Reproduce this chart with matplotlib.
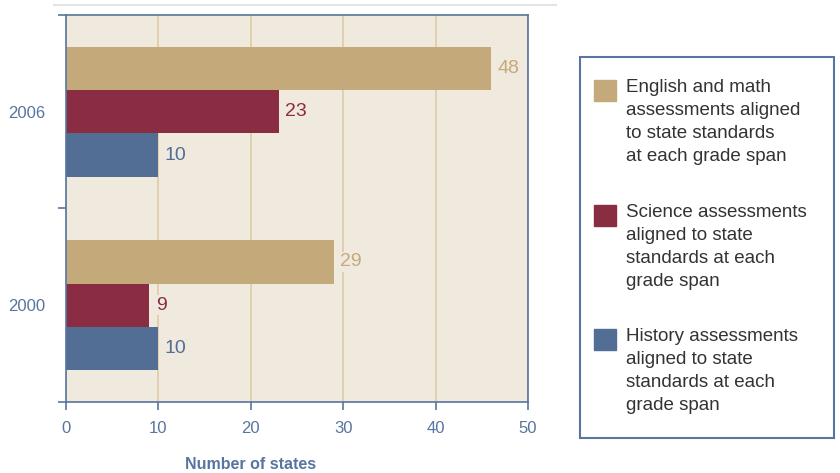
# -*- coding: utf-8 -*-
import numpy as np
import matplotlib
matplotlib.use('Agg')
import matplotlib.pyplot as plt
from matplotlib.patches import Rectangle
from matplotlib.lines import Line2D

plt.rcParams['font.family'] = ['Liberation Sans', 'DejaVu Sans']

# %% datos
anios = ['2000', '2006']
# largo de las barras tal como se dibujan en la figura
ingles_mate = [29, 46]
ciencias = [9, 23]
historia = [10, 10]
# valores impresos junto a las barras
etq_ingles_mate = ['29', '48']
etq_ciencias = ['9', '23']
etq_historia = ['10', '10']

series = [
    (ingles_mate, etq_ingles_mate, '#C4AA7B',
     'English and math\nassessments aligned\nto state standards\nat each grade span'),
    (ciencias, etq_ciencias, '#8A2D42',
     'Science assessments\naligned to state\nstandards at each\ngrade span'),
    (historia, etq_historia, '#536E95',
     'History assessments\naligned to state\nstandards at each\ngrade span'),
]

azul = '#5874A0'
fondo = '#F0E9DE'
reticula = '#DDCCA6'

# %% figura
fig = plt.figure(figsize=(8.4, 4.73), dpi=100)
ax = fig.add_axes([66/840, 71/473, 462/840, 387/473])
ax.set_facecolor(fondo)

y = np.arange(len(anios))
alto = 0.224
for k, (vals, etqs, color, _) in enumerate(series):
    pos = y + alto * (1 - k)
    ax.barh(pos, vals, height=alto, color=color, zorder=2)
    for p, v, t in zip(pos, vals, etqs):
        ax.text(v + 0.7, p, t, color=color, fontsize=14, va='center', ha='left',
                zorder=3, bbox=dict(facecolor=fondo, edgecolor='none', pad=1))

ax.set_xlim(0, 50)
ax.set_ylim(-0.5, 1.5)
ax.set_xticks(np.arange(0, 51, 10))
ax.set_yticks([-0.5, 0.5, 1.5])
ax.set_yticklabels([])
ax.set_yticks(y, minor=True)
ax.set_yticklabels(anios, minor=True)
ax.tick_params(axis='y', which='minor', length=0, pad=15, labelsize=12,
               labelcolor=azul)
ax.tick_params(axis='y', which='major', length=6, color=azul, width=1.2)
ax.tick_params(axis='x', length=6, color=azul, width=1.2, labelsize=12,
               labelcolor=azul, pad=8)
ax.grid(axis='x', color=reticula, lw=1.2, zorder=1)
ax.set_axisbelow(True)
for s in ax.spines.values():
    s.set_color(azul)
    s.set_linewidth(1.2)

ax.set_xlabel('Number of states', fontsize=11.5, fontweight='bold', color=azul)
ax.xaxis.set_label_coords(0.40, -0.142)

# línea gris superior
fig.add_artist(Line2D([54/840, 556/840], [1 - 5/473, 1 - 5/473],
                      color='#E4E4E4', lw=1.5))

# %% leyenda dibujada a mano
fig.add_artist(Rectangle((580/840, 1 - 438/473), 254/840, 381/473,
                         transform=fig.transFigure, fill=False,
                         edgecolor=azul, lw=1.5))
y_sup = [80, 205, 329]
for (vals, etqs, color, nombre), yt in zip(series, y_sup):
    fig.add_artist(Rectangle((594/840, 1 - (yt + 21)/473), 22/840, 21/473,
                             transform=fig.transFigure, color=color))
    fig.text(626/840, 1 - (yt - 1)/473, nombre, fontsize=13.5, color='#333333',
             va='top', ha='left', linespacing=1.45)

fig.savefig('out.png', dpi=100)
